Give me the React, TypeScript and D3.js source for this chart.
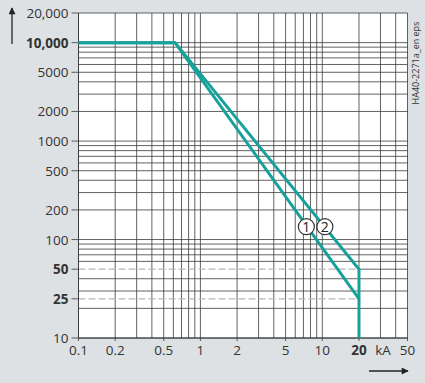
import React from "react";
import * as d3 from "d3";

const W = 425;
const H = 383;

const xTickValues = [0.1, 0.2, 0.5, 1, 2, 5, 10, 20, 50];
const xTickLabels = ["0.1", "0.2", "0.5", "1", "2", "5", "10", "20", "50"];
const xBold = [20];
const yTickValues = [10, 25, 50, 100, 200, 500, 1000, 2000, 5000, 10000, 20000];
const yTickLabels = ["10", "25", "50", "100", "200", "500", "1000", "2000", "5000", "10,000", "20,000"];
const yBold = [10000, 50, 25];

const curve1: [number, number][] = [[0.1, 10000], [0.62, 10000], [20, 25]];
const curve2: [number, number][] = [[0.1, 10000], [0.62, 10000], [20, 50], [20, 10]];
const curveLabels = [
  { text: "1", x: 7.4, y: 135 },
  { text: "2", x: 10.5, y: 135 },
];
const dashedLevels = [25, 50];
const dashedEnd = 20;

export default function App() {
  const x = d3.scaleLog().domain([0.1, 50]).range([78.5, 407.5]);
  const y = d3.scaleLog().domain([10, 20000]).range([338, 13]);

  const xGrid: number[] = [];
  for (const dec of [0.1, 1, 10]) for (let k = 1; k <= 9; k++) {
    const v = +(dec * k).toPrecision(3);
    if (v <= 50) xGrid.push(v);
  }
  const yGrid: number[] = [];
  for (const dec of [10, 100, 1000, 10000]) for (let k = 1; k <= 9; k++) {
    const v = dec * k;
    if (v <= 20000) yGrid.push(v);
  }

  const line = d3.line<[number, number]>().x(d => x(d[0])).y(d => y(d[1]));
  const teal = "#18a09b";
  const gridC = "#3a3a3a";
  const font = "'Open Sans', 'DejaVu Sans', sans-serif";
  const [x0, x1] = x.range();
  const [y0, y1] = y.range();

  return (
    <svg width={W} height={H} style={{ position: "absolute", left: 0, top: 0, display: "block" }}>
      <defs>
        <marker id="ah" viewBox="0 0 10 10" refX="9" refY="5" markerWidth="10" markerHeight="7" markerUnits="userSpaceOnUse" orient="auto">
          <path d="M0,0 L10,5 L0,10 z" fill="#222" />
        </marker>
      </defs>
      <rect x={0} y={0} width={W} height={H} fill="#dde1e4" />
      <rect x={x0} y={y1} width={x1 - x0} height={y0 - y1} fill="#ffffff" />
      {xGrid.map(v => (
        <line key={"xg" + v} x1={x(v)} x2={x(v)} y1={y1} y2={y0} stroke={gridC} strokeWidth={0.8} />
      ))}
      {yGrid.map(v => (
        <line key={"yg" + v} x1={v === 50 ? x(dashedEnd) : x0} x2={x1} y1={y(v)} y2={y(v)} stroke={gridC} strokeWidth={0.8} />
      ))}
      {dashedLevels.map(v => (
        <line key={"dl" + v} x1={x0} x2={x(dashedEnd)} y1={y(v)} y2={y(v)} stroke="#b8b8b8" strokeWidth={1.2} strokeDasharray="7,3" />
      ))}
      <line x1={x0} x2={x0} y1={y1} y2={y0} stroke={gridC} strokeWidth={1} />
      <line x1={x0} x2={x1} y1={y0} y2={y0} stroke={gridC} strokeWidth={1} />
      {yTickValues.map(v => (
        <line key={"yt" + v} x1={x0 - 7} x2={x0} y1={y(v)} y2={y(v)} stroke={gridC} strokeWidth={0.8} />
      ))}
      {xTickValues.map(v => (
        <line key={"xt" + v} x1={x(v)} x2={x(v)} y1={y0} y2={y0 + 3} stroke={gridC} strokeWidth={0.8} />
      ))}
      <path d={line(curve2) || ""} fill="none" stroke={teal} strokeWidth={3} strokeLinejoin="miter" />
      <path d={line(curve1) || ""} fill="none" stroke={teal} strokeWidth={3} strokeLinejoin="miter" />
      {curveLabels.map(c => (
        <g key={c.text}>
          <circle cx={x(c.x)} cy={y(c.y)} r={8} fill="#ffffff" stroke="#333" strokeWidth={1.2} />
          <text x={x(c.x)} y={y(c.y) + 5} textAnchor="middle" fontFamily={font} fontSize={14} fill="#222">{c.text}</text>
        </g>
      ))}
      {yTickValues.map((v, i) => (
        <text key={"yl" + v} x={x0 - 10} y={y(v) + 5} textAnchor="end" fontFamily={font} fontSize={13.5}
          fontWeight={yBold.includes(v) ? 700 : 400} fill="#333">{yTickLabels[i]}</text>
      ))}
      {xTickValues.map((v, i) => (
        <text key={"xl" + v} x={x(v)} y={355} textAnchor="middle" fontFamily={font} fontSize={13.5}
          fontWeight={xBold.includes(v) ? 700 : 400} fill="#333">{xTickLabels[i]}</text>
      ))}
      <text x={383} y={355} textAnchor="middle" fontFamily={font} fontSize={13.5} fill="#333">kA</text>
      <line x1={12} x2={12} y1={44} y2={8} stroke="#222" strokeWidth={1.3} markerEnd="url(#ah)" />
      <line x1={369} x2={408} y1={371} y2={371} stroke="#222" strokeWidth={1.3} markerEnd="url(#ah)" />
      <text transform={`translate(419,63) rotate(-90)`} textAnchor="middle" fontFamily={font} fontSize={9} fill="#333">HA40-2271a_en eps</text>
    </svg>
  );
}
